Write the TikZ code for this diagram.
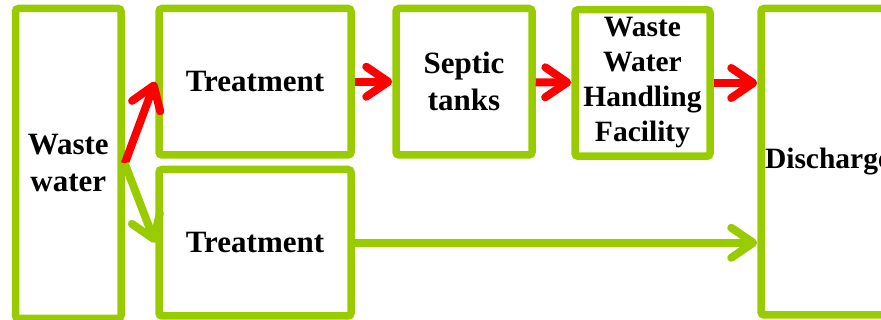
\documentclass[tikz,border=0pt]{standalone}
\usepackage{fontspec}
\setmainfont{Liberation Serif}
\usetikzlibrary{arrows.meta}
\definecolor{leafgreen}{RGB}{153,204,0}

\begin{document}
\begin{tikzpicture}[x=1pt,y=-1pt,>={Straight Barb[length=22pt,width=30pt,round]},
                    main box/.style={rectangle,draw=leafgreen,line width=7.5pt,rounded corners=3pt,
                      align=center,font=\fontsize{31}{37}\selectfont\bfseries},
                    flow/.style={->,line width=8pt}]
  \useasboundingbox (0,0) rectangle (881,320);
  \clip (0,0) rectangle (881,320);
  \node[main box,minimum width=105.5pt,minimum height=310pt] (waste) at (68.25,163.5) {Waste\\water};
  \node[main box,minimum width=192pt,minimum height=146.5pt] (treat1) at (255,81.75) {Treatment};
  \node[main box,minimum width=192pt,minimum height=146.5pt] (treat2) at (255,242.75) {Treatment};
  \node[main box,minimum width=136pt,minimum height=146.5pt] (septic) at (464,81.75) {Septic\\tanks};
  \node[main box,minimum width=135pt,minimum height=146.5pt,
        font=\fontsize{29.5}{35}\selectfont\bfseries] (wwhf) at (642.5,83) {Waste\\Water\\Handling\\Facility};
  \node[main box,minimum width=240pt,minimum height=306.5pt,text width=232pt,inner xsep=4pt,
        align=left,font=\fontsize{29.5}{35}\selectfont\bfseries] (discharge) at (881,161.75) {Discharge};
  \draw[flow,red] (waste.east) -- (treat1.west);
  \draw[flow,leafgreen] (waste.east) -- (treat2.west);
  \draw[flow,red] (treat1) -- (septic);
  \draw[flow,red] (septic) -- (wwhf);
  \draw[flow,red] (wwhf.east) -- (wwhf.east -| discharge.west);
  \draw[flow,leafgreen] (treat2.east) -- (treat2.east -| discharge.west);
\end{tikzpicture}
\end{document}
